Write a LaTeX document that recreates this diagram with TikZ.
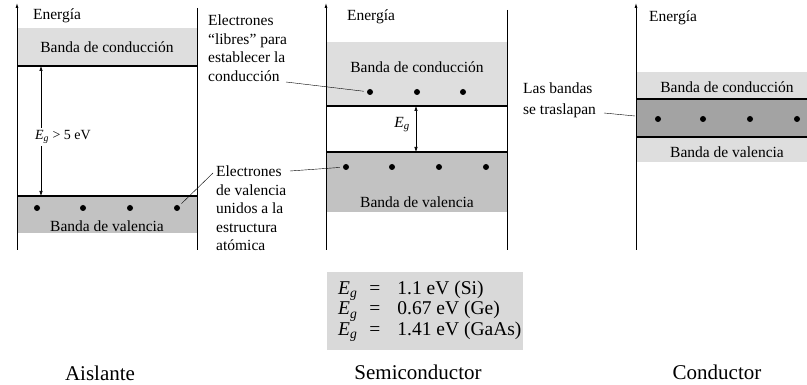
\documentclass[tikz,border=0pt]{standalone}
\usepackage{fontspec}
\setmainfont{Liberation Serif}
\usetikzlibrary{arrows.meta,positioning}
\definecolor{bandlight}{gray}{0.87}
\definecolor{banddark}{gray}{0.76}
\definecolor{bandover}{gray}{0.64}
\definecolor{boxgray}{gray}{0.85}
\newcommand{\Eg}{\textit{E}\textsubscript{\textit{g}}}

\begin{document}
\begin{tikzpicture}[x=1pt, y=-1pt,
    band/.style={font=\fontsize{15.5}{17}\selectfont, inner sep=0pt},
    note/.style={font=\fontsize{15.5}{18.5}\selectfont, align=left, inner sep=0pt, anchor=north west},
    title/.style={font=\fontsize{21}{24}\selectfont, inner sep=0pt},
    electron/.style={circle, fill=black, inner sep=0pt, minimum size=6pt},
    edge/.style={line width=1.1pt},
    axis/.style={line width=0.8pt},
    leader/.style={line width=0.4pt, shorten >=3pt},
    gap/.style={line width=0.6pt, {Latex[length=5pt,width=3.5pt]}-{Latex[length=5pt,width=3.5pt]}}]
  \useasboundingbox (0,0) rectangle (807,385);

  % Aislante
  \fill[bandlight] (17,28) rectangle (197,66);
  \fill[banddark] (17,196) rectangle (197,233);
  \draw[edge] (17,66) -- (197,66);
  \draw[edge] (17,196) -- (197,196);
  \draw[axis, -{Latex[length=5pt,width=3pt]}] (17,250) -- (17,3);
  \draw[axis] (197,8) -- (197,250);
  \node[band] (ins-energy) at (57,16) {Energía};
  \node[band] (ins-cb) at (107,47) {Banda de conducción};
  \node[band] (ins-vb) at (107,226) {Banda de valencia};
  \foreach \x [count=\i] in {37,83,130,177}
    \node[electron] (ins-e\i) at (\x,208) {};
  \coordinate (ins-gtop) at (41,66);
  \coordinate (ins-gbot) at (41,196);
  \draw[gap] (ins-gtop) -- (ins-gbot);
  \node[band, fill=white, inner sep=2pt, font=\fontsize{14}{16}\selectfont] (ins-gap) at (63,137) {\Eg\ > 5 eV};

  % Semiconductor
  \fill[bandlight] (326,42) rectangle (507,106);
  \fill[banddark] (326,152) rectangle (507,212);
  \draw[edge] (326,106) -- (507,106);
  \draw[edge] (326,152) -- (507,152);
  \draw[axis, -{Latex[length=5pt,width=3pt]}] (326,250) -- (326,3);
  \draw[axis] (507,10) -- (507,250);
  \node[band] (sc-energy) at (371,17) {Energía};
  \node[band] (sc-cb) at (417,67) {Banda de conducción};
  \node[band] (sc-vb) at (417,202) {Banda de valencia};
  \foreach \x [count=\i] in {370,417,463}
    \node[electron] (sc-c\i) at (\x,92) {};
  \foreach \x [count=\i] in {346,392,439,486}
    \node[electron] (sc-v\i) at (\x,167) {};
  \coordinate (sc-gtop) at (416,106);
  \coordinate (sc-gbot) at (416,152);
  \draw[gap] (sc-gtop) -- (sc-gbot);
  \node[band] (sc-gap) at (402,125) {\Eg};

  % Conductor
  \fill[bandlight] (636,72) rectangle (807,99);
  \fill[bandover] (636,99) rectangle (807,137);
  \fill[bandlight] (636,137) rectangle (807,162);
  \draw[edge] (636,99) -- (807,99);
  \draw[edge] (636,137) -- (807,137);
  \draw[axis, -{Latex[length=5pt,width=3pt]}] (636,250) -- (636,3);
  \node[band] (co-energy) at (673,18) {Energía};
  \node[band] (co-cb) at (727,87) {Banda de conducción};
  \node[band] (co-vb) at (727,152) {Banda de valencia};
  \foreach \x [count=\i] in {658,703,750,797}
    \node[electron] (co-e\i) at (\x,119) {};

  % notes
  \node[note] (free-note) at (208,15) {Electrones\\``libres'' para\\establecer la\\conducción};
  \coordinate (free-tip) at (286,82);
  \draw[leader] (free-tip) -- (sc-c1);
  \node[note] (bound-note) at (216,166) {Electrones\\de valencia\\unidos a la\\estructura\\atómica};
  \coordinate (bound-left) at (213,173);
  \coordinate (bound-right) at (290,171);
  \draw[leader] (bound-left) -- (ins-e4);
  \draw[leader] (bound-right) -- (sc-v1);
  \node[note, font=\fontsize{15.5}{21}\selectfont] (overlap-note) at (523,83) {Las bandas\\se traslapan};
  \coordinate (overlap-tip) at (604,113);
  \coordinate (overlap-end) at (635,116);
  \draw[leader, shorten >=0pt] (overlap-tip) -- (overlap-end);

  % gap values
  \node[fill=boxgray, anchor=north west, inner sep=0pt,
        minimum width=196pt, minimum height=78pt] (eg-box) at (327,272) {};
  \node[align=left, anchor=west, inner sep=0pt, right=11pt of eg-box.west,
        font=\fontsize{19.5}{20.5}\selectfont] (eg-text)
    {\Eg\hspace{12pt}=\hspace{17pt}1.1 eV (Si)\\ \Eg\hspace{12pt}=\hspace{17pt}0.67 eV (Ge)\\ \Eg\hspace{12pt}=\hspace{17pt}1.41 eV (GaAs)};

  % titles
  \node[title] (ins-title) at (100,373) {Aislante};
  \node[title] (sc-title) at (418,372) {Semiconductor};
  \node[title] (co-title) at (717,372) {Conductor};
\end{tikzpicture}
\end{document}
